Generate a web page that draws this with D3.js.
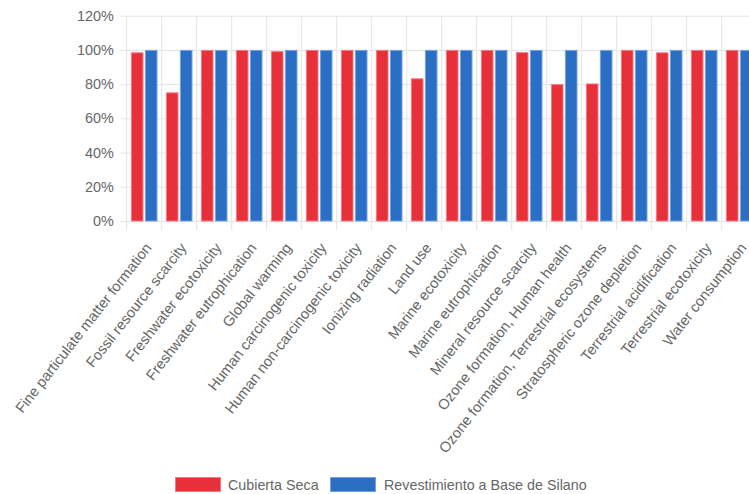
<!DOCTYPE html>
<html><head><meta charset="utf-8">
<script src="https://cdn.jsdelivr.net/npm/d3@7"></script>
<style>
html,body{margin:0;padding:0;background:#fff;overflow:hidden;}
text{font-family:"Liberation Sans",Arial,Helvetica,sans-serif;}
</style></head>
<body>
<svg id="c" width="749" height="494"></svg>
<script>
const categories = ["Fine particulate matter formation","Fossil resource scarcity","Freshwater ecotoxicity","Freshwater eutrophication","Global warming","Human carcinogenic toxicity","Human non-carcinogenic toxicity","Ionizing radiation","Land use","Marine ecotoxicity","Marine eutrophication","Mineral resource scarcity","Ozone formation, Human health","Ozone formation, Terrestrial ecosystems","Stratospheric ozone depletion","Terrestrial acidification","Terrestrial ecotoxicity","Water consumption"];
const seriesNames = ["Cubierta Seca","Revestimiento a Base de Silano"];
const cubiertaSeca = [98.6,75.2,100,100,99.3,100,100,100,83.4,100,100,98.7,80,80.4,100,98.6,100,100];
const revestimiento = [100,100,100,100,100,100,100,100,100,100,100,100,100,100,100,100,100,100];
const yTicks = [0,20,40,60,80,100,120];
const colors = ["#e8303a","#2a6fc4"];
const borders = ["#f27a80","#74a3e0"];

(function(){
const svg = d3.select("#c");
const pL = 126.7, pR = 756.7, pT = 15.7, pB = 221;
const x = d3.scaleBand().domain(categories).range([pL,pR]).padding(0);
const x1 = d3.scaleBand().domain(seriesNames).range([x.bandwidth()*0.1, x.bandwidth()*0.9]).paddingInner(0.1).paddingOuter(0.05);
const y = d3.scaleLinear().domain([0,120]).range([pB,pT]);
const grid = "#e4e4e4";

const yAxis = d3.axisLeft(y).tickValues(yTicks).tickFormat(d=>d+"%").tickSize(-(pR-pL)).tickPadding(8);
const ga = svg.append("g").attr("transform",`translate(${pL},0)`).call(yAxis);
ga.select(".domain").remove();
ga.selectAll(".tick line").attr("stroke",grid).attr("x1",-6);
ga.selectAll(".tick text").attr("fill","#666").attr("font-size",14.4).attr("x",-13).attr("font-family",null);

const bounds = categories.map(c=>x(c)).concat([pR]);
svg.append("g").selectAll("line").data(bounds).join("line")
  .attr("x1",d=>d).attr("x2",d=>d).attr("y1",pT).attr("y2",pB+9)
  .attr("stroke",grid).attr("stroke-width",1);

const data = [cubiertaSeca, revestimiento];
seriesNames.forEach((s,si)=>{
  svg.append("g").selectAll("rect").data(categories).join("rect")
    .attr("x",c=>x(c)+x1(s)+0.5)
    .attr("width",x1.bandwidth()-1)
    .attr("y",(c,i)=>y(data[si][i])+0.5)
    .attr("height",(c,i)=>pB-y(data[si][i])-0.5)
    .attr("fill",colors[si]).attr("stroke",borders[si]).attr("stroke-width",1);
});

svg.append("g").selectAll("text").data(categories).join("text")
  .attr("transform",c=>`translate(${x(c)+x.bandwidth()/2+8},${pB+27}) rotate(-52)`)
  .attr("text-anchor","end").attr("font-size",14.65).attr("fill","#666")
  .text(c=>c);

const leg = [{n:seriesNames[0],bx:175.5,tx:228},{n:seriesNames[1],bx:330.5,tx:384}];
leg.forEach((l,i)=>{
  svg.append("rect").attr("x",l.bx).attr("y",477.5).attr("width",45).attr("height",14)
    .attr("fill",colors[i]).attr("stroke",borders[i]).attr("stroke-width",1);
  svg.append("text").attr("x",l.tx).attr("y",485).attr("dy","0.35em")
    .attr("font-size",14.3).attr("fill","#666").text(l.n);
});
})();
</script>
</body></html>
